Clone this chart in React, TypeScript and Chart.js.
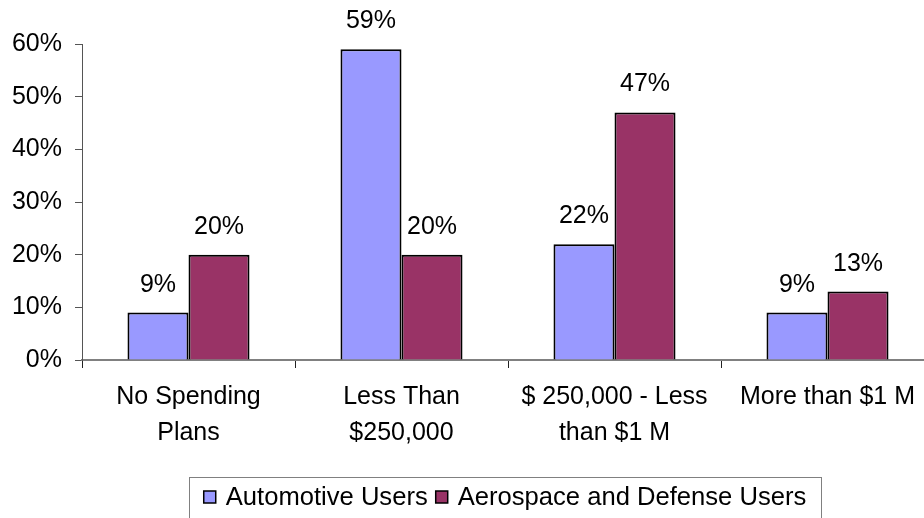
import React, { useEffect, useRef } from "react";
import { Chart, registerables } from "chart.js";

Chart.register(...registerables);

// Survey answers per spending bracket, in percent
const categories: string[][] = [
  ["No Spending", "Plans"],
  ["Less Than", "$250,000"],
  ["$ 250,000 - Less", "than $1 M"],
  ["More than $1 M"],
];
const automotiveUsers = [9, 59, 22, 9];
const aerospaceDefenseUsers = [20, 20, 47, 13];
const seriesNames = ["Automotive Users", "Aerospace and Defense Users"];
const seriesColors = ["#9999FF", "#993366"];
const yTicks = [0, 10, 20, 30, 40, 50, 60];

const FONT = "Arial, 'Liberation Sans', sans-serif";

// Writes each bar's value above it
const valueLabels = {
  id: "valueLabels",
  afterDatasetsDraw(chart: any) {
    const ctx = chart.ctx;
    ctx.save();
    ctx.font = `25px ${FONT}`;
    ctx.fillStyle = "#000";
    ctx.textAlign = "center";
    ctx.textBaseline = "alphabetic";
    chart.data.datasets.forEach((ds: any, di: number) => {
      const meta = chart.getDatasetMeta(di);
      meta.data.forEach((el: any, i: number) => {
        ctx.fillText(`${ds.data[i]}%`, el.x, el.y - 21);
      });
    });
    ctx.restore();
  },
};

// Boxed legend under the plot
const boxedLegend = {
  id: "boxedLegend",
  afterDraw(chart: any) {
    const ctx = chart.ctx;
    const box = { left: 189, top: 477, right: 821, bottom: 540 };
    ctx.save();
    ctx.strokeStyle = "#808080";
    ctx.lineWidth = 1;
    ctx.strokeRect(box.left + 0.5, box.top + 0.5, box.right - box.left, box.bottom - box.top);
    ctx.font = `25.6px ${FONT}`;
    ctx.textBaseline = "middle";
    ctx.textAlign = "left";
    const marker = 12;
    const gapText = 10;
    const gapItem = 8;
    const widths = seriesNames.map((n) => ctx.measureText(n).width);
    const total = widths.reduce((a, w) => a + marker + gapText + w, 0) + gapItem;
    let x = (box.left + box.right) / 2 - total / 2;
    const cy = 497;
    seriesNames.forEach((name, i) => {
      ctx.fillStyle = seriesColors[i];
      ctx.fillRect(x, cy - marker / 2, marker, marker);
      ctx.strokeStyle = "#000";
      ctx.lineWidth = 1.5;
      ctx.strokeRect(x, cy - marker / 2, marker, marker);
      ctx.fillStyle = "#000";
      ctx.fillText(name, x + marker + gapText, cy + 1);
      x += marker + gapText + widths[i] + gapItem;
    });
    ctx.restore();
  },
};

export default function App() {
  const canvasRef = useRef<HTMLCanvasElement>(null);

  useEffect(() => {
    if (!canvasRef.current) return;
    const chart = new Chart(canvasRef.current, {
      type: "bar",
      data: {
        labels: categories,
        datasets: [
          {
            label: seriesNames[0],
            data: automotiveUsers,
            backgroundColor: seriesColors[0],
            borderColor: "#000",
            borderWidth: 2,
            categoryPercentage: 0.573,
            barPercentage: 1,
          },
          {
            label: seriesNames[1],
            data: aerospaceDefenseUsers,
            backgroundColor: seriesColors[1],
            borderColor: "#000",
            borderWidth: 2,
            categoryPercentage: 0.573,
            barPercentage: 1,
          },
        ],
      },
      options: {
        responsive: false,
        animation: false,
        layout: { padding: { top: 44, right: 6, bottom: 0, left: 0 } },
        plugins: {
          legend: { display: false },
          tooltip: { enabled: false },
        },
        scales: {
          x: {
            offset: true,
            grid: {
              offset: true,
              drawOnChartArea: false,
              drawTicks: true,
              tickLength: 8,
              color: "#222",
            },
            border: { color: "#808080", width: 2 },
            ticks: {
              color: "#000",
              font: { family: FONT, size: 25, lineHeight: 1.44 },
              padding: 11,
              maxRotation: 0,
              autoSkip: false,
            },
            afterFit: (s: any) => {
              s.height = 158;
            },
          },
          y: {
            min: 0,
            max: 60,
            afterBuildTicks: (s: any) => {
              s.ticks = yTicks.map((v) => ({ value: v }));
            },
            grid: {
              drawOnChartArea: false,
              drawTicks: true,
              tickLength: 7,
              color: "#555",
            },
            border: { color: "#555", width: 1 },
            ticks: {
              color: "#000",
              font: { family: FONT, size: 25 },
              padding: 13,
              callback: (v: any) => `${v}%`,
            },
            afterFit: (s: any) => {
              s.width = 82;
            },
          },
        },
      },
      plugins: [valueLabels, boxedLegend],
    });
    return () => chart.destroy();
  }, []);

  return (
    <div
      style={{
        position: "fixed",
        left: 0,
        top: 0,
        width: 924,
        height: 518,
        overflow: "hidden",
        background: "#fff",
      }}
    >
      <canvas ref={canvasRef} width={940} height={518} style={{ display: "block" }} />
    </div>
  );
}
